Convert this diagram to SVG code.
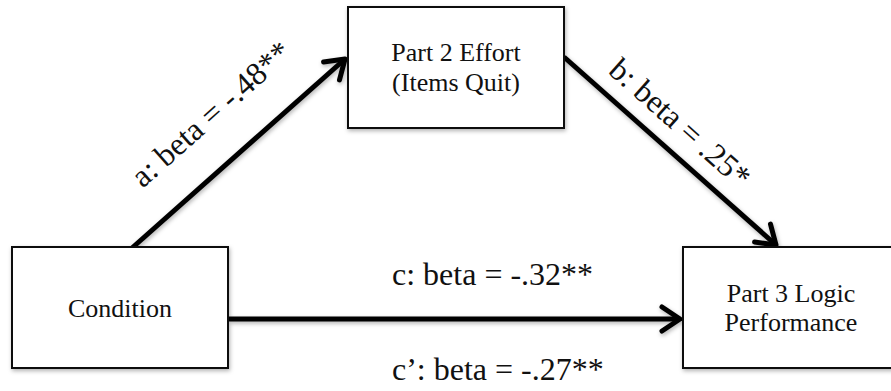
<svg xmlns="http://www.w3.org/2000/svg" width="891" height="391" viewBox="0 0 891 391">
  <defs>
    <filter id="sh" x="-10%" y="-10%" width="130%" height="140%">
      <feDropShadow dx="1" dy="2" stdDeviation="2" flood-color="#000" flood-opacity="0.3"/>
    </filter>
    <marker id="arr" markerUnits="userSpaceOnUse" viewBox="-24 -16 30 32" refX="0" refY="0" markerWidth="30" markerHeight="32" orient="auto">
      <path d="M-18,-12 L0,0 L-18,12" fill="none" stroke="#000" stroke-width="5" stroke-linecap="round" stroke-linejoin="round"/>
    </marker>
    <style>
      .box { fill: #fff; stroke: #111; stroke-width: 2; }
      .nt { font-family: "Liberation Serif", "Times New Roman", serif; font-size: 26px; fill: #111; text-anchor: middle; }
      .lb { font-family: "Liberation Serif", "Times New Roman", serif; font-size: 32px; fill: #111; }
      .ln { stroke: #000; stroke-width: 5; fill: none; marker-end: url(#arr); }
    </style>
  </defs>
  <rect width="891" height="391" fill="#fff"/>

  <g id="connectors" filter="url(#sh)">
    <line class="ln" x1="132" y1="248" x2="345" y2="59"/>
    <line class="ln" x1="564" y1="57" x2="776" y2="245"/>
    <line class="ln" x1="229" y1="319" x2="680" y2="319"/>
  </g>

  <g id="node-effort">
    <rect class="box" x="348" y="7" width="216" height="121" filter="url(#sh)"/>
    <text class="nt" x="456" y="61">Part 2 Effort</text>
    <text class="nt" x="456" y="91">(Items Quit)</text>
  </g>

  <g id="node-condition">
    <rect class="box" x="12" y="247" width="216" height="121" filter="url(#sh)"/>
    <text class="nt" x="120" y="317">Condition</text>
  </g>

  <g id="node-performance">
    <rect class="box" x="683" y="247" width="216" height="121" filter="url(#sh)"/>
    <text class="nt" x="791" y="302">Part 3 Logic</text>
    <text class="nt" x="791" y="331">Performance</text>
  </g>

  <g id="labels">
    <text class="lb" text-anchor="middle" transform="translate(218,122) rotate(-41.6)">a: beta = -.48**</text>
    <text class="lb" text-anchor="middle" transform="translate(673,131) rotate(41.6)">b: beta = .25*</text>
    <text class="lb" x="392" y="285">c: beta = -.32**</text>
    <text class="lb" x="392" y="380">c’: beta = -.27**</text>
  </g>
</svg>
